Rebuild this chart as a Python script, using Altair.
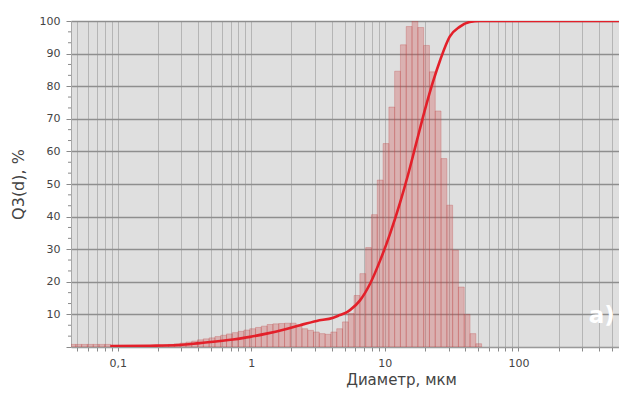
import altair as alt
import pandas as pd

# Histogram channels (lower/upper edges in µm) and density values, % of max
bin_edges = [0.0440, 0.0486, 0.0537, 0.0593, 0.0656, 0.0725, 0.0801, 0.0885, 0.0978,
             0.1081, 0.1194, 0.1320, 0.1459, 0.1612, 0.1781, 0.1968, 0.2175, 0.2404,
             0.2656, 0.2935, 0.3244, 0.3584, 0.3961, 0.4377, 0.4837, 0.5345, 0.5906,
             0.6527, 0.7212, 0.7970, 0.8813, 0.9739, 1.076, 1.189, 1.314, 1.452, 1.605,
             1.774, 1.960, 2.166, 2.394, 2.645, 2.923, 3.230, 3.570, 3.945, 4.360, 4.818,
             5.324, 5.884, 6.502, 7.186, 7.941, 8.776, 9.698, 10.72, 11.84, 13.09, 14.46,
             15.98, 17.66, 19.52, 21.57, 23.84, 26.34, 29.11, 32.17, 35.55, 39.29, 43.42,
             47.98, 53.03]
bin_values = [0.8, 0.8, 0.8, 0.8, 0.8, 0.8, 0.8,
              0.3, 0.3, 0.3, 0.3, 0.3, 0.3,
              0.4, 0.4, 0.5, 0.6, 0.8, 1.0, 1.2, 1.5, 1.8, 2.2, 2.5, 2.8, 3.2, 3.6,
              4.0, 4.4, 4.8, 5.2, 5.6, 6.0, 6.4, 6.9, 7.1, 7.2, 7.3, 7.3, 6.7, 5.6,
              5.1, 4.6, 4.1, 3.9, 4.6, 5.6, 7.7, 10.3, 15.8, 22.5, 30.5, 40.6, 51.2,
              62.4, 73.6, 84.6, 92.7, 98.3, 100.0, 98.0, 92.5, 84.4, 72.4, 57.8, 43.5,
              29.7, 18.4, 10.0, 4.1, 1.0]

# Cumulative curve Q3(d)
curve_d = [0.088, 0.174, 0.29, 0.41, 0.73, 0.98, 1.3, 1.74, 2.32, 3.09, 4.11, 4.61,
           5.17, 5.48, 6.52, 7.75, 9.21, 10.95, 13.0, 14.95, 17.3, 19.9, 23.1, 25.9,
           30.6, 36.3, 43.2, 51.4, 650]
curve_q = [0.3, 0.4, 0.6, 1.2, 2.3, 3.1, 4.1, 5.3, 6.7, 8.0, 9.0, 9.8,
           10.6, 11.3, 14.3, 19.4, 26.5, 34.8, 44.3, 53.0, 63.0, 72.6, 81.8, 87.9,
           95.2, 98.2, 99.7, 100.0, 100.0]

# Axis ticks
x_ticks = [0.05, 0.06, 0.07, 0.08, 0.09,
           0.1, 0.2, 0.3, 0.4, 0.5, 0.6, 0.7, 0.8, 0.9,
           1, 2, 3, 4, 5, 6, 7, 8, 9,
           10, 20, 30, 40, 50, 60, 70, 80, 90,
           100, 200, 300, 400, 500, 600]
y_ticks = [0, 10, 20, 30, 40, 50, 60, 70, 80, 90, 100]
y_minor = [3.33, 6.67, 13.33, 16.67, 23.33, 26.67, 33.33, 36.67, 43.33, 46.67,
           53.33, 56.67, 63.33, 66.67, 73.33, 76.67, 83.33, 86.67, 93.33, 96.67]

label_text = ["а)"]
label_d = [420]
label_q = [9.4]

bars = pd.DataFrame({"lo": bin_edges[:-1], "hi": bin_edges[1:], "v": bin_values})
curve = pd.DataFrame({"d": curve_d, "q": curve_q})
minor = pd.DataFrame({"m": y_minor})
lab = pd.DataFrame({"t": label_text, "d": label_d, "q": label_q})

xscale = alt.Scale(type="log", domain=[0.0447, 650], nice=False)
yscale = alt.Scale(domain=[0, 100], nice=False)

font = "DejaVu Sans"

x_axis = alt.Axis(
    values=x_ticks,
    labelExpr="datum.value == 0.1 ? '0,1' : datum.value == 1 ? '1' : datum.value == 10 ? '10' : datum.value == 100 ? '100' : ''",
    labelOverlap=False, labelFlush=False,
    grid=True, gridColor="#b5b5b5", gridWidth=1,
    tickSize=4, tickColor="#8a8a8a", domainColor="#9a9a9a",
    labelPadding=6, labelFontSize=11, labelColor="#444444", labelFont=font,
    title="Диаметр, мкм", titleFont=font, titleFontSize=15, titleFontWeight="normal",
    titleColor="#444444", titleX=330, titleY=32, titleAlign="center",
    titleBaseline="middle",
)
y_axis = alt.Axis(
    values=y_ticks,
    labelExpr="datum.value == 0 ? '' : datum.label",
    labelOverlap=False,
    grid=True, gridColor="#8e8e8e", gridWidth=1.5,
    tickSize=5, tickColor="#8a8a8a", domainColor="#a8a8a8",
    labelPadding=6, labelFontSize=11, labelColor="#444444", labelFont=font,
    title="Q3(d), %", titleFont=font, titleFontSize=16, titleFontWeight="normal",
    titleColor="#444444", titleX=-53, titleY=163, titleAlign="center",
    titleBaseline="middle", titleAngle=270,
)

hist = alt.Chart(bars).mark_rect(
    fill="#d05050", fillOpacity=0.32, stroke="#c04848", strokeWidth=0.6,
    strokeOpacity=0.5, clip=True
).encode(
    x=alt.X("lo:Q", scale=xscale, axis=x_axis),
    x2="hi:Q",
    y=alt.Y("v:Q", scale=yscale, axis=y_axis),
    y2=alt.datum(0),
)

ticks_minor = alt.Chart(minor).mark_rule(color="#8a8a8a", strokeWidth=1).encode(
    y=alt.Y("m:Q", scale=yscale, axis=y_axis),
    x=alt.value(-3), x2=alt.value(0),
)

line = alt.Chart(curve).mark_line(
    color="#e3202a", strokeWidth=2.6, interpolate="monotone", clip=True
).encode(
    x=alt.X("d:Q", scale=xscale, axis=x_axis),
    y=alt.Y("q:Q", scale=yscale, axis=y_axis),
)

text = alt.Chart(lab).mark_text(
    color="#ffffff", fontSize=23, fontWeight="bold", font=font,
    align="center", baseline="middle"
).encode(
    x=alt.X("d:Q", scale=xscale, axis=x_axis),
    y=alt.Y("q:Q", scale=yscale, axis=y_axis),
    text="t:N",
)

chart = alt.layer(hist, ticks_minor, line, text).properties(
    width=556, height=326,
    autosize=alt.AutoSizeParams(type="none"),
    padding={"left": 63, "top": 13, "right": -8, "bottom": 41},
    background="#ffffff",
).configure_view(fill="#dfdfdf", stroke="transparent")

chart.save("out.html", embed_options={"renderer": "svg", "actions": False})
